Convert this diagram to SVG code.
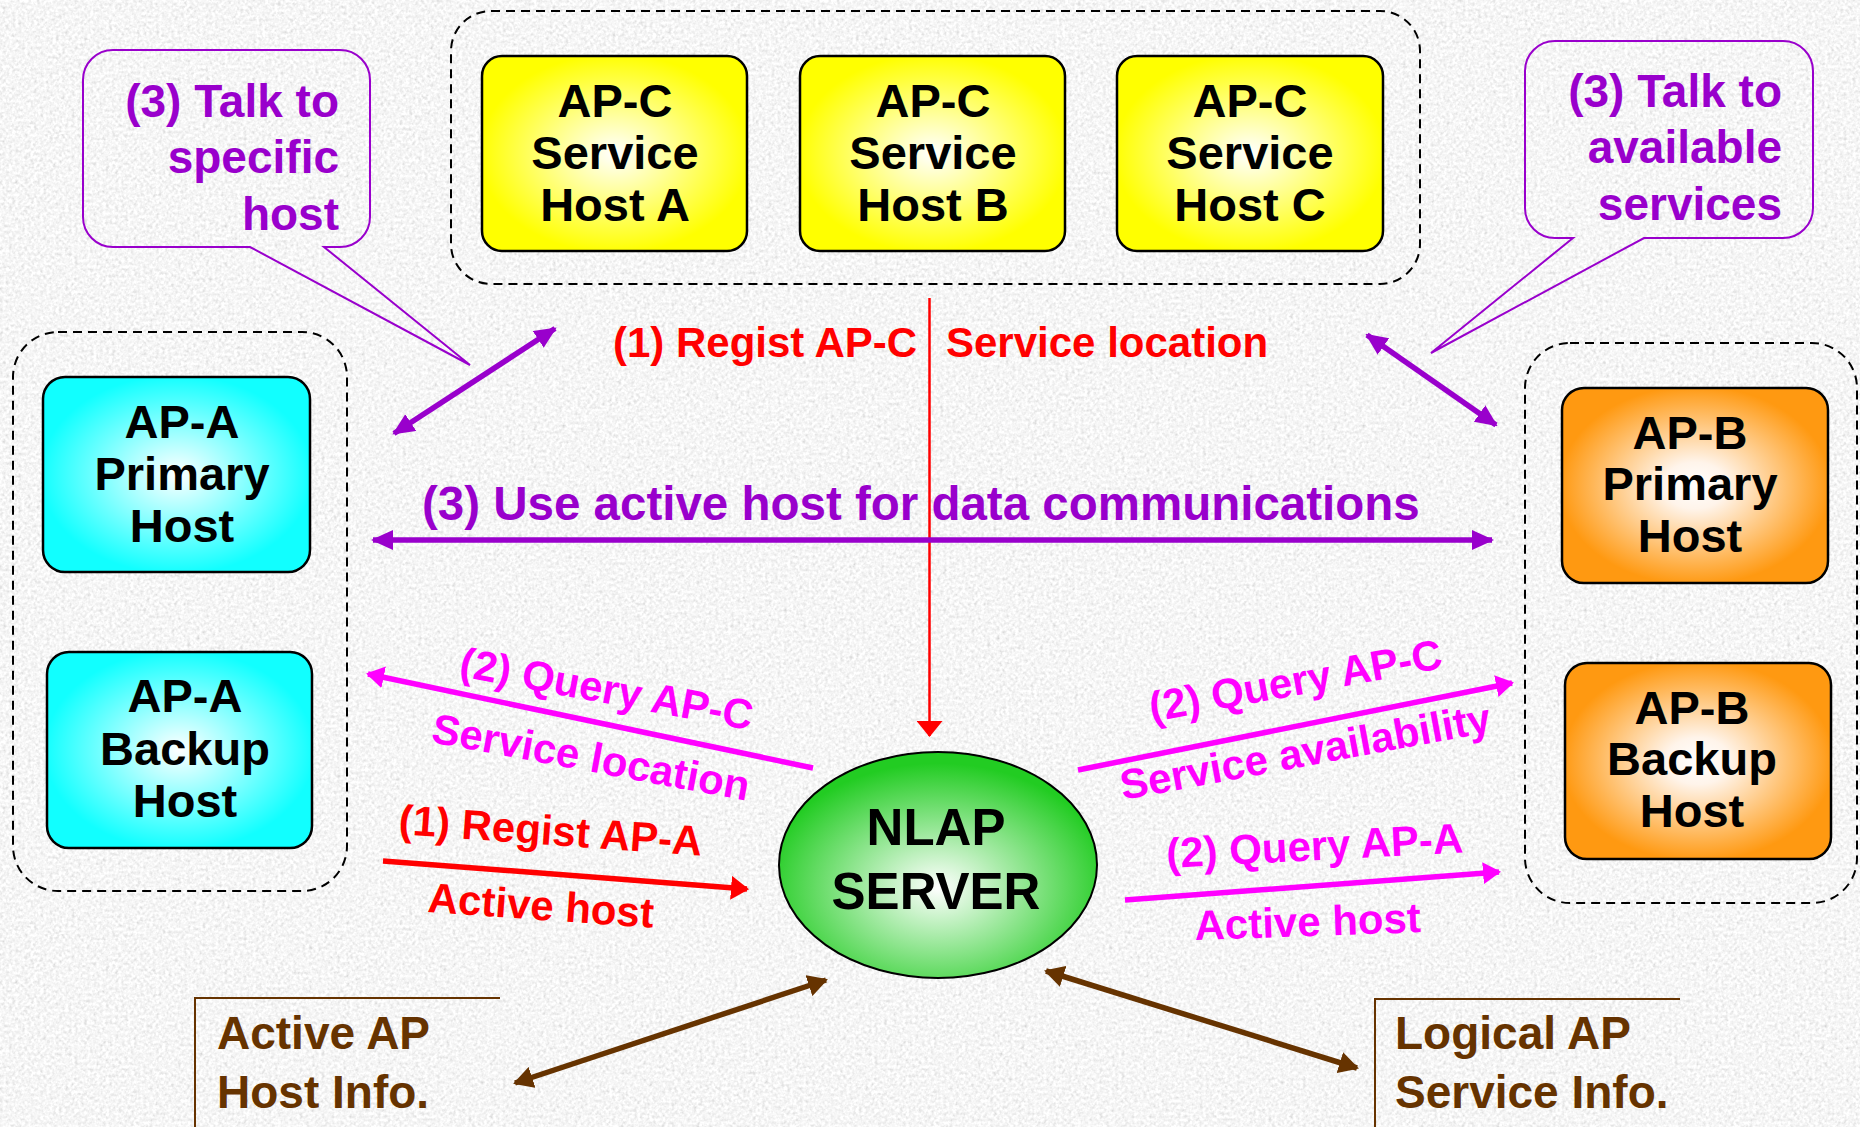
<svg xmlns="http://www.w3.org/2000/svg" width="1860" height="1127" viewBox="0 0 1860 1127">
  <style>
    text { font-family: "Liberation Sans", Arial, Helvetica, sans-serif; font-weight: bold; }
    .ntext { font-size: 47px; fill: #000; text-anchor: middle; }
    .box { stroke: #000; stroke-width: 2.5; }
    .grp { fill: none; stroke: #000; stroke-width: 2; stroke-dasharray: 9 6; }
    .callout { fill: none; stroke: #9900cc; stroke-width: 2; }
    .ctext { font-size: 46px; fill: #9900cc; text-anchor: end; }
    .lbl { font-size: 42px; }
    .red { fill: #ff0000; }
    .pink { fill: #ff00ff; }
    .purple { fill: #9900cc; }
    .info { font-size: 46px; fill: #663300; }
    .l-purple { stroke: #9900cc; stroke-width: 5.5; fill: none; }
    .l-pink { stroke: #ff00ff; stroke-width: 5.5; fill: none; }
    .l-red { stroke: #ff0000; stroke-width: 5.5; fill: none; }
    .l-brown { stroke: #663300; stroke-width: 5.5; fill: none; }
    .bracket { stroke: #663300; stroke-width: 2; fill: none; }
  </style>
  <defs>
    <filter id="grain" x="0" y="0" width="1860" height="1127" filterUnits="userSpaceOnUse">
      <feTurbulence type="fractalNoise" baseFrequency="0.32" numOctaves="2" seed="7"/>
      <feColorMatrix type="matrix" values="0.33 0.33 0.33 0 0  0.33 0.33 0.33 0 0  0.33 0.33 0.33 0 0  0 0 0 0 1"/>
      <feComponentTransfer>
        <feFuncR type="linear" slope="0.85" intercept="0.5"/>
        <feFuncG type="linear" slope="0.85" intercept="0.5"/>
        <feFuncB type="linear" slope="0.85" intercept="0.5"/>
      </feComponentTransfer>
    </filter>
    <radialGradient id="gYellow" cx="0.5" cy="0.5" r="0.6">
      <stop offset="0" stop-color="#ffffff"/>
      <stop offset="0.85" stop-color="#ffff00"/>
    </radialGradient>
    <radialGradient id="gCyan" cx="0.5" cy="0.5" r="0.6">
      <stop offset="0" stop-color="#ffffff"/>
      <stop offset="0.85" stop-color="#11ffff"/>
    </radialGradient>
    <radialGradient id="gOrange" cx="0.5" cy="0.5" r="0.6">
      <stop offset="0" stop-color="#ffffff"/>
      <stop offset="0.2" stop-color="#fff4ea"/>
      <stop offset="0.85" stop-color="#ff9911"/>
    </radialGradient>
    <radialGradient id="gGreen" cx="0.5" cy="0.6" r="0.55">
      <stop offset="0" stop-color="#ffffff"/>
      <stop offset="1" stop-color="#22cc22"/>
    </radialGradient>
    <marker id="mPurple" markerUnits="userSpaceOnUse" viewBox="0 0 22 20" markerWidth="22" markerHeight="20" refX="20" refY="10" orient="auto-start-reverse">
      <path d="M0,0 L22,10 L0,20 Z" fill="#9900cc"/>
    </marker>
    <marker id="mPink" markerUnits="userSpaceOnUse" viewBox="0 0 18 22" markerWidth="18" markerHeight="22" refX="16" refY="11" orient="auto-start-reverse">
      <path d="M0,0 L18,11 L0,22 Z" fill="#ff00ff"/>
    </marker>
    <marker id="mRed" markerUnits="userSpaceOnUse" viewBox="0 0 18 24" markerWidth="18" markerHeight="24" refX="16" refY="12" orient="auto-start-reverse">
      <path d="M0,0 L18,12 L0,24 Z" fill="#ff0000"/>
    </marker>
    <marker id="mRedThin" markerUnits="userSpaceOnUse" viewBox="0 0 16 26" markerWidth="16" markerHeight="26" refX="15" refY="13" orient="auto">
      <path d="M0,0 L16,13 L0,26 Z" fill="#ff0000"/>
    </marker>
    <marker id="mBrown" markerUnits="userSpaceOnUse" viewBox="0 0 20 22" markerWidth="20" markerHeight="22" refX="18" refY="11" orient="auto-start-reverse">
      <path d="M0,0 L20,11 L0,22 Z" fill="#663300"/>
    </marker>
  </defs>

  <!-- speckled stone background -->
  <rect x="0" y="0" width="1860" height="1127" fill="#e2e2e2" filter="url(#grain)"/>

  <!-- dashed host groups -->
  <g id="groups">
    <rect id="group-apc" class="grp" x="451" y="11" width="969" height="273" rx="40"/>
    <rect id="group-apa" class="grp" x="13" y="332" width="334" height="559" rx="45"/>
    <rect id="group-apb" class="grp" x="1525" y="343" width="332" height="560" rx="45"/>
  </g>

  <!-- speech callouts -->
  <g id="callout-specific">
    <path class="callout" d="M113,50 H340 A30,30 0 0 1 370,80 V217 A30,30 0 0 1 340,247 H324 L470,365 L250,247 H113 A30,30 0 0 1 83,217 V80 A30,30 0 0 1 113,50 Z"/>
    <text class="ctext" x="339" y="117">(3) Talk to</text>
    <text class="ctext" x="339" y="173">specific</text>
    <text class="ctext" x="339" y="230">host</text>
  </g>
  <g id="callout-available">
    <path class="callout" d="M1555,41 H1783 A30,30 0 0 1 1813,71 V208 A30,30 0 0 1 1783,238 H1644 L1431,353 L1573,238 H1555 A30,30 0 0 1 1525,208 V71 A30,30 0 0 1 1555,41 Z"/>
    <text class="ctext" x="1782" y="107">(3) Talk to</text>
    <text class="ctext" x="1782" y="163">available</text>
    <text class="ctext" x="1782" y="220">services</text>
  </g>

  <!-- AP-C service hosts -->
  <g id="apc-host-a">
    <rect class="box" x="482" y="56" width="265" height="195" rx="20" fill="url(#gYellow)"/>
    <text class="ntext" x="615" y="117">AP-C</text>
    <text class="ntext" x="615" y="169">Service</text>
    <text class="ntext" x="615" y="221">Host A</text>
  </g>
  <g id="apc-host-b">
    <rect class="box" x="800" y="56" width="265" height="195" rx="20" fill="url(#gYellow)"/>
    <text class="ntext" x="933" y="117">AP-C</text>
    <text class="ntext" x="933" y="169">Service</text>
    <text class="ntext" x="933" y="221">Host B</text>
  </g>
  <g id="apc-host-c">
    <rect class="box" x="1117" y="56" width="266" height="195" rx="20" fill="url(#gYellow)"/>
    <text class="ntext" x="1250" y="117">AP-C</text>
    <text class="ntext" x="1250" y="169">Service</text>
    <text class="ntext" x="1250" y="221">Host C</text>
  </g>

  <!-- AP-A hosts -->
  <g id="apa-primary">
    <rect class="box" x="43" y="377" width="267" height="195" rx="22" fill="url(#gCyan)"/>
    <text class="ntext" x="182" y="438">AP-A</text>
    <text class="ntext" x="182" y="490">Primary</text>
    <text class="ntext" x="182" y="542">Host</text>
  </g>
  <g id="apa-backup">
    <rect class="box" x="47" y="652" width="265" height="196" rx="22" fill="url(#gCyan)"/>
    <text class="ntext" x="185" y="712">AP-A</text>
    <text class="ntext" x="185" y="765">Backup</text>
    <text class="ntext" x="185" y="817">Host</text>
  </g>

  <!-- AP-B hosts -->
  <g id="apb-primary">
    <rect class="box" x="1562" y="388" width="266" height="195" rx="22" fill="url(#gOrange)"/>
    <text class="ntext" x="1690" y="449">AP-B</text>
    <text class="ntext" x="1690" y="500">Primary</text>
    <text class="ntext" x="1690" y="552">Host</text>
  </g>
  <g id="apb-backup">
    <rect class="box" x="1565" y="663" width="266" height="196" rx="22" fill="url(#gOrange)"/>
    <text class="ntext" x="1692" y="724">AP-B</text>
    <text class="ntext" x="1692" y="775">Backup</text>
    <text class="ntext" x="1692" y="827">Host</text>
  </g>

  <!-- central name server -->
  <g id="nlap-server">
    <ellipse cx="938" cy="865" rx="159" ry="113" fill="url(#gGreen)" stroke="#000" stroke-width="2"/>
    <text x="936" y="845" text-anchor="middle" font-size="51" fill="#000">NLAP</text>
    <text x="936" y="909" text-anchor="middle" font-size="51" fill="#000">SERVER</text>
  </g>

  <!-- information stores -->
  <g id="active-ap-host-info">
    <path class="bracket" d="M195,1127 V998 H500"/>
    <text class="info" x="217" y="1049">Active AP</text>
    <text class="info" x="217" y="1108">Host Info.</text>
  </g>
  <g id="logical-ap-service-info">
    <path class="bracket" d="M1375,1127 V999 H1680"/>
    <text class="info" x="1395" y="1049">Logical AP</text>
    <text class="info" x="1395" y="1108">Service Info.</text>
  </g>

  <!-- connectors and their labels -->
  <g id="connectors">
    <!-- (1) AP-C registration -->
    <line x1="929.5" y1="298" x2="929.5" y2="736" stroke="#ff0000" stroke-width="2.5" marker-end="url(#mRedThin)"/>
    <text class="lbl red" x="613" y="357">(1) Regist AP-C</text>
    <text class="lbl red" x="946" y="357">Service location</text>

    <!-- (3) data path between hosts -->
    <line class="l-purple" x1="373" y1="540" x2="1492" y2="540" marker-start="url(#mPurple)" marker-end="url(#mPurple)"/>
    <text class="purple" x="422" y="520" font-size="47.5">(3) Use active host for data communications</text>
    <line class="l-purple" x1="555" y1="328.5" x2="394" y2="433.5" marker-start="url(#mPurple)" marker-end="url(#mPurple)"/>
    <line class="l-purple" x1="1367" y1="335" x2="1496" y2="425" marker-start="url(#mPurple)" marker-end="url(#mPurple)"/>

    <!-- (2) AP-A query -->
    <line class="l-pink" x1="813" y1="768" x2="368" y2="674" marker-end="url(#mPink)"/>
    <text class="lbl pink" transform="translate(458,676) rotate(10.5)">(2) Query AP-C</text>
    <text class="lbl pink" transform="translate(430,742) rotate(10.5)">Service location</text>

    <!-- (1) AP-A registration -->
    <line class="l-red" x1="383" y1="861" x2="747" y2="889" marker-end="url(#mRed)"/>
    <text class="lbl red" transform="translate(398,834) rotate(4.1)">(1) Regist AP-A</text>
    <text class="lbl red" transform="translate(427,912) rotate(4)">Active host</text>

    <!-- (2) AP-B queries -->
    <line class="l-pink" x1="1078" y1="770" x2="1512" y2="683" marker-end="url(#mPink)"/>
    <text class="lbl pink" transform="translate(1152,722) rotate(-10.5)">(2) Query AP-C</text>
    <text class="lbl pink" transform="translate(1123,800) rotate(-10.5)">Service availability</text>
    <line class="l-pink" x1="1125" y1="900" x2="1499" y2="872" marker-end="url(#mPink)"/>
    <text class="lbl pink" transform="translate(1167,868) rotate(-3)">(2) Query AP-A</text>
    <text class="lbl pink" transform="translate(1195,940) rotate(-2)">Active host</text>

    <!-- server to information stores -->
    <line class="l-brown" x1="826" y1="980" x2="515" y2="1083" marker-start="url(#mBrown)" marker-end="url(#mBrown)"/>
    <line class="l-brown" x1="1046" y1="971" x2="1357" y2="1068" marker-start="url(#mBrown)" marker-end="url(#mBrown)"/>
  </g>
</svg>
